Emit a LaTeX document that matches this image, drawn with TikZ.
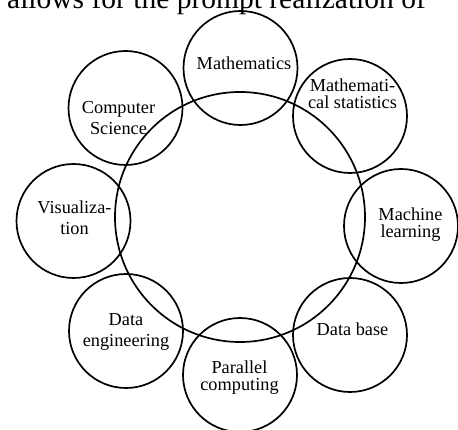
\documentclass[tikz,border=0pt]{standalone}
\usepackage{fontspec}
\setmainfont{Liberation Serif}
\begin{document}
\begin{tikzpicture}[x=1pt,y=-1pt,
  bub/.style={circle,draw,line width=1.7pt,minimum size=114pt,inner sep=0pt},
  big/.style={circle,draw,line width=1.7pt,minimum size=250pt,inner sep=0pt},
  lblw/.style={anchor=base,align=center,inner sep=0pt,font=\fontsize{18.3}{21}\selectfont},
  lbln/.style={anchor=base,align=center,inner sep=0pt,font=\fontsize{18.3}{17}\selectfont}]
\useasboundingbox (0,0) rectangle (458,430);
\clip (0,0) rectangle (458,430);
\node[anchor=base west,inner sep=0pt,font=\fontsize{29.5}{32}\selectfont] (top) at (7,9) {allows for the prompt realization of};
\node[big] (hub) at (240,217) {};
\node[bub] (math) at (240.5,68) {};
\node[bub] (stat) at (350,116) {};
\node[bub] (ml) at (401,226) {};
\node[bub] (db) at (350,335) {};
\node[bub] (par) at (240,375) {};
\node[bub] (deng) at (126,331) {};
\node[bub] (vis) at (73.5,221) {};
\node[bub] (cs) at (125.5,108) {};
\node[lblw] (tmath) at (244,70) {Mathematics};
\node[lbln] (tstat) at (352.5,108.3) {Mathemati-\\cal statistics};
\node[lbln] (tml) at (410.5,238) {Machine\\learning};
\node[lblw] (tdb) at (352.5,336) {Data base};
\node[lbln] (tpar) at (239.5,390) {Parallel\\computing};
\node[lblw] (tdeng) at (126,347) {Data\\engineering};
\node[lblw] (tvis) at (74.5,235) {Visualiza-\\tion};
\node[lblw] (tcs) at (118.5,135) {Computer\\Science};
\end{tikzpicture}
\end{document}
